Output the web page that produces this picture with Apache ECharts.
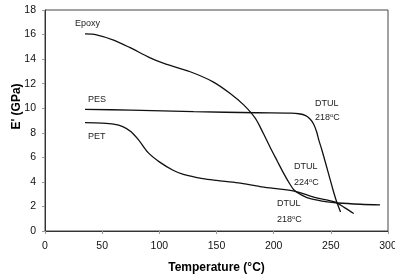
<!DOCTYPE html>
<html>
<head>
<meta charset="utf-8">
<script src="https://cdn.jsdelivr.net/npm/echarts@6/dist/echarts.min.js"></script>
<style>
  html, body {margin: 0; padding: 0; background: #fff;}
</style>
</head>
<body>
<div id="modulus" style="width: 395px;height: 274px;"></div>
<script>
// data: [temperature °C, E' GPa]
const epoxy = [[35, 16.05], [45, 15.98], [60, 15.55], [74, 14.95], [92, 14.1], [104, 13.65], [127, 12.97],
  [147, 12.15], [162, 11.2], [174, 10.25], [184, 9.17], [191, 7.94], [197, 6.8], [203, 5.72], [209, 4.65],
  [214, 3.85], [218, 3.32], [225, 2.9], [232, 2.64], [247, 2.37], [256, 2.28], [276, 2.18], [293, 2.13]];
const pes = [[35, 9.9], [75, 9.85], [130, 9.72], [185, 9.63], [215, 9.6], [222, 9.55], [228, 9.4],
  [232, 9.1], [235, 8.7], [237.5, 8.1], [239.5, 7.4], [242.5, 6.5], [247, 5.0], [251, 3.65], [254.5, 2.55], [258.5, 1.55]];
const pet = [[35, 8.82], [50, 8.78], [60, 8.7], [68, 8.5], [75, 8.1], [82, 7.4], [90, 6.4], [100, 5.63],
  [112, 4.95], [121, 4.62], [138, 4.27], [150, 4.12], [169, 3.92], [188, 3.62], [200, 3.47], [218, 3.25],
  [232, 2.85], [245, 2.55], [254, 2.35], [262, 1.9], [270, 1.42]];
const xTicks = [0, 50, 100, 150, 200, 250, 300];
const yTicks = [0, 2, 4, 6, 8, 10, 12, 14, 16, 18];
const seriesNames = ['Epoxy', 'PES', 'PET'];

const font = 'Liberation Sans, Arial, sans-serif';

function lineSeries(name, data) {
  return {
    name: name,
    type: 'line',
    data: data,
    smooth: 0.3,
    symbol: 'none',
    lineStyle: {color: '#111', width: 1.3},
    silent: true
  }
}

function note(text, left, top) {
  return {
    type: 'text',
    left: left,
    top: top,
    style: {
      text: text,
      fontFamily: font,
      fontSize: 9,
      fill: '#222',
      rich: {
        n: {fontSize: 9, fontFamily: font, fill: '#222'},
        s: {fontSize: 6, fontFamily: font, fill: '#222', verticalAlign: 'top', padding: [0, 0, 5, 0]}
      }
    }
  }
}

let option = {
  animation: false,
  grid: {
    left: 45, right: 7, top: 10, bottom: 43,
    outerBoundsMode: 'none',
    containLabel: false,
    show: true, borderColor: '#444', borderWidth: 1
  },
  xAxis: {
    type: 'value',
    min: xTicks[0], max: xTicks[xTicks.length - 1], interval: 50,
    name: 'Temperature (°C)',
    nameLocation: 'middle',
    nameGap: 31,
    nameTextStyle: {fontFamily: font, fontWeight: 'bold', fontSize: 12, color: '#000'},
    axisLine: {lineStyle: {color: '#333', width: 1}},
    axisTick: {show: true, length: 3, lineStyle: {color: '#999'}},
    axisLabel: {fontFamily: font, fontSize: 10.5, color: '#111', margin: 10},
    splitLine: {show: false}
  },
  yAxis: {
    type: 'value',
    min: yTicks[0], max: yTicks[yTicks.length - 1], interval: 2,
    axisLine: {show: true, lineStyle: {color: '#333', width: 1}},
    axisTick: {show: true, length: 3, lineStyle: {color: '#999'}},
    axisLabel: {fontFamily: font, fontSize: 10.5, color: '#111', margin: 9},
    splitLine: {show: false}
  },
  series: [
    lineSeries(seriesNames[0], epoxy),
    lineSeries(seriesNames[1], pes),
    lineSeries(seriesNames[2], pet)
  ],
  graphic: [
    {
      type: 'text',
      x: 16.5, y: 106.5,
      rotation: Math.PI / 2,
      style: {
        text: "E' (GPa)",
        fontFamily: font, fontSize: 12, fontWeight: 'bold', fill: '#000',
        align: 'center', verticalAlign: 'middle'
      }
    },
    note(seriesNames[0], 75, 19),
    note(seriesNames[1], 88, 95),
    note(seriesNames[2], 88, 132),
    note('{n|DTUL}', 315, 99),
    note('{n|218}{s|o}{n|C}', 315, 112),
    note('{n|DTUL}', 294, 162),
    note('{n|224}{s|o}{n|C}', 294, 177),
    note('{n|DTUL}', 277, 199),
    note('{n|218}{s|o}{n|C}', 277, 214)
  ]
};

let chart = echarts.init(document.getElementById('modulus'), null, {renderer: 'canvas'});
chart.setOption(option);
</script>
</body>
</html>
